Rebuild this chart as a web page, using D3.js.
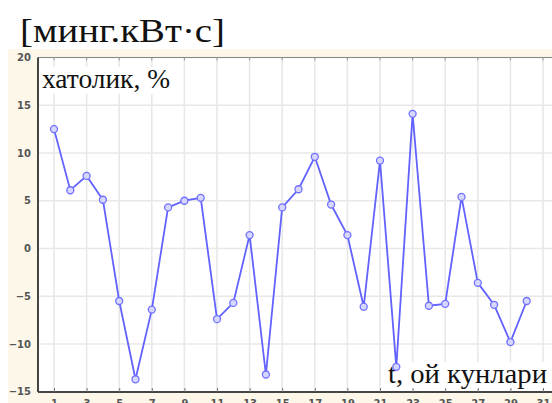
<!DOCTYPE html>
<html>
<head>
<meta charset="utf-8">
<script src="https://cdn.jsdelivr.net/npm/d3@7"></script>
<style>
  html, body { margin: 0; padding: 0; background: #fff; }
  svg { display: block; }
  .tick text { font-family: "DejaVu Sans", sans-serif; font-size: 10px; font-weight: bold; fill: #555; }
  .serif { font-family: "Liberation Serif", "Times New Roman", serif; fill: #111; }
</style>
</head>
<body>
<div id="chart"></div>
<script>
// error per day of month, %
const days = d3.range(1, 31);
const errors = [12.5, 6.1, 7.6, 5.1, -5.5, -13.7, -6.4, 4.3, 5.0, 5.3,
                -7.4, -5.7, 1.4, -13.2, 4.3, 6.2, 9.6, 4.6, 1.4, -6.1,
                9.2, -12.4, 14.1, -6.0, -5.8, 5.4, -3.6, -5.9, -9.8, -5.5];
const xTicks = d3.range(1, 32, 2);
const yTicks = [-15, -10, -5, 0, 5, 10, 15, 20];

const WIDTH = 552, HEIGHT = 403;
const plot = {left: 38, right: 552, top: 57.5, bottom: 392};

const svg = d3.select("#chart").append("svg")
  .attr("width", WIDTH).attr("height", HEIGHT);

// beige frame of the plot window
svg.append("rect")
  .attr("x", 8).attr("y", 49)
  .attr("width", WIDTH - 8).attr("height", HEIGHT - 49)
  .attr("fill", "#fdf7e9");

svg.append("rect")
  .attr("x", plot.left).attr("y", plot.top)
  .attr("width", plot.right - plot.left).attr("height", plot.bottom - plot.top)
  .attr("fill", "#fff");

const x = d3.scaleLinear().domain([1, 31]).range([54, 543]);
const y = d3.scaleLinear().domain([-15, 20]).range([391.7, 57.5]);

// grid
const grid = svg.append("g").attr("stroke", "#e8e8e8").attr("stroke-width", 1.6);
grid.selectAll("line.v").data(xTicks).enter().append("line")
  .attr("x1", d => x(d)).attr("x2", d => x(d))
  .attr("y1", plot.top).attr("y2", plot.bottom);
grid.selectAll("line.h").data(yTicks).enter().append("line")
  .attr("x1", plot.left).attr("x2", plot.right)
  .attr("y1", d => y(d)).attr("y2", d => y(d));

// top border with small inward ticks
svg.append("line")
  .attr("x1", plot.left).attr("x2", plot.right)
  .attr("y1", plot.top).attr("y2", plot.top)
  .attr("stroke", "#888").attr("stroke-width", 1.2);
svg.append("g").selectAll("line").data(xTicks).enter().append("line")
  .attr("x1", d => x(d)).attr("x2", d => x(d))
  .attr("y1", plot.top).attr("y2", plot.top + 3)
  .attr("stroke", "#999");

// labels with white boxes (under the series)
function label(txt, xPos, yPos, size, anchor, len, boxed) {
  const t = svg.append("text").attr("class", "serif")
    .attr("x", xPos).attr("y", yPos)
    .attr("font-size", size).attr("text-anchor", anchor)
    .attr("textLength", len).attr("lengthAdjust", "spacingAndGlyphs")
    .text(txt);
  if (boxed) {
    const b = t.node().getBBox();
    svg.insert("rect", () => t.node())
      .attr("x", b.x - 2).attr("y", b.y + 3)
      .attr("width", b.width + 4).attr("height", b.height - 3)
      .attr("fill", "#fff");
  }
}
label("[минг.кВт·с]", 20, 42, 33, "start", 205, false);
label("хатолик, %", 42, 88, 27, "start", 128, true);
label("t, ой кунлари", 547, 383, 27, "end", 159, true);

// axes
const gx = svg.append("g").attr("transform", `translate(0,${plot.bottom})`)
  .call(d3.axisBottom(x).tickValues(xTicks).tickSizeInner(-4).tickSizeOuter(0).tickPadding(8));
gx.select(".domain").attr("d", `M${plot.left},0H${plot.right}`).attr("stroke", "#444").attr("stroke-width", 2);
gx.selectAll(".tick line").attr("stroke", "#777");

const gy = svg.append("g").attr("transform", `translate(${plot.left},0)`)
  .call(d3.axisLeft(y).tickValues(yTicks).tickSize(0).tickPadding(7));
gy.select(".domain").attr("d", `M0,${plot.top}V${plot.bottom}`).attr("stroke", "#444").attr("stroke-width", 2);

// series
const line = d3.line().x((d, i) => x(days[i])).y(d => y(d));
svg.append("path")
  .datum(errors)
  .attr("d", line)
  .attr("fill", "none")
  .attr("stroke", "#6262ff")
  .attr("stroke-width", 1.8);

svg.append("g").selectAll("circle").data(errors).enter().append("circle")
  .attr("cx", (d, i) => x(days[i]))
  .attr("cy", d => y(d))
  .attr("r", 3.5)
  .attr("fill", "#d6d6ff")
  .attr("stroke", "#7070ff")
  .attr("stroke-width", 1.3);
</script>
</body>
</html>
